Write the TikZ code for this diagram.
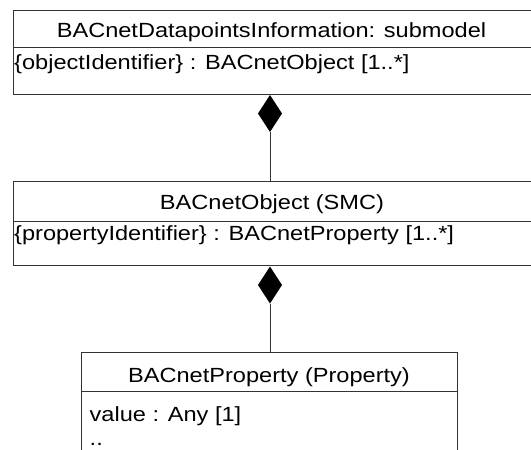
\documentclass[tikz,border=0pt]{standalone}
\usepackage{fontspec}
\setmainfont{Liberation Sans}[FakeStretch=1.15]
\usepackage{tikz}
\usetikzlibrary{shapes.geometric}

\tikzset{
  band/.style={draw=black!80, line width=1pt, rectangle, inner sep=0pt, outer sep=0pt, anchor=north west},
  lbl/.style={inner sep=0pt, font=\fontsize{20.5}{24}\selectfont},
  comp/.style={diamond, fill=black, draw=none, inner sep=0pt, outer sep=0pt, minimum width=24pt, minimum height=37pt, anchor=north},
  conn/.style={draw=black!80, line width=1pt}
}

\begin{document}
\begin{tikzpicture}[x=1pt,y=-1pt]
\useasboundingbox (0,0) rectangle (531,450);
\clip (0,0) rectangle (531,450);
% submodel
\node[band, minimum width=522pt, minimum height=37.7pt] (dpi-head) at (13,10) {};
\node[band, minimum width=522pt, minimum height=46.3pt] (dpi-body) at (dpi-head.south west) {};
\node[lbl, anchor=base] (dpi-title) at (271.5,37.3) {BACnetDatapointsInformation: submodel};
\node[lbl, anchor=base west] (dpi-attr) at (14,69.3) {\{objectIdentifier\} : BACnetObject [1..*]};
% object
\node[band, minimum width=522pt, minimum height=40pt] (obj-head) at (13,181.7) {};
\node[band, minimum width=522pt, minimum height=44pt] (obj-body) at (obj-head.south west) {};
\node[lbl, anchor=base] (obj-title) at (272,209.3) {BACnetObject (SMC)};
\node[lbl, anchor=base west] (obj-attr) at (14,240.5) {\{propertyIdentifier\} : BACnetProperty [1..*]};
% property
\node[band, minimum width=376pt, minimum height=39.4pt] (prop-head) at (81,352.3) {};
\node[band, minimum width=376pt, minimum height=80pt] (prop-body) at (prop-head.south west) {};
\node[lbl, anchor=base] (prop-title) at (269,382.7) {BACnetProperty (Property)};
\node[lbl, anchor=base west] (prop-attr) at (89.5,421) {value : Any [1]};
\node[lbl, anchor=base west] (prop-more) at (89.5,445.5) {..};
% compositions
\node[comp] (comp-obj) at (270,95) {};
\draw[conn] (comp-obj.south) -- (comp-obj.south |- obj-head.north);
\node[comp] (comp-prop) at (270,266.5) {};
\draw[conn] (comp-prop.south) -- (comp-prop.south |- prop-head.north);
\end{tikzpicture}
\end{document}
